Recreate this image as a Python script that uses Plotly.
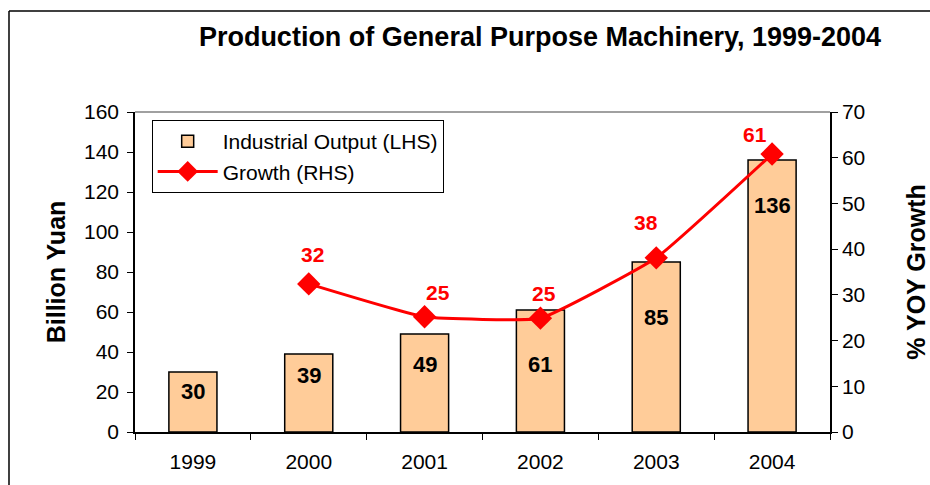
import plotly.graph_objects as go

years = ["1999", "2000", "2001", "2002", "2003", "2004"]
output = [30, 39, 49, 61, 85, 136]
growth_years = ["2000", "2001", "2002", "2003", "2004"]
growth = [32.4, 25.2, 24.9, 38.1, 60.8]

# label placement (left-axis units for bar labels, pixel shifts for growth labels)
bar_label_y = [20.5, 28.5, 34, 34, 57.5, 113.5]
growth_label_dx = [4, 13, 4, -10, -17]
growth_label_dy = [29, 24, 25, 35, 20]

FONT = "Liberation Sans, Arial, sans-serif"

fig = go.Figure()
fig.add_trace(go.Bar(
    x=years, y=output, name="Industrial Output (LHS)",
    marker=dict(color="#FFCC99", line=dict(color="black", width=1.5)),
    yaxis="y",
))
fig.add_trace(go.Scatter(
    x=growth_years, y=growth, name="Growth (RHS)",
    mode="lines+markers", line=dict(color="#FF0000", width=3, shape="spline", smoothing=0.35),
    marker=dict(symbol="diamond", size=18, color="#FF0000"),
    yaxis="y2",
))

annotations = []
for x, v, ly in zip(years, output, bar_label_y):
    annotations.append(dict(x=years.index(x), y=ly, xref="x", yref="y", text=f"<b>{v}</b>",
                            showarrow=False, font=dict(family=FONT, size=22, color="black")))
for x, v, dx, dy in zip(growth_years, growth, growth_label_dx, growth_label_dy):
    annotations.append(dict(x=years.index(x), y=v, xref="x", yref="y2", text=f"<b>{round(v)}</b>",
                            showarrow=False, xshift=dx, yshift=dy,
                            font=dict(family=FONT, size=21, color="#FF0000")))

fig.update_layout(
    width=930, height=485,
    margin=dict(l=135, r=100, t=112, b=53),
    paper_bgcolor="white", plot_bgcolor="white",
    font=dict(family=FONT, size=21, color="black"),
    title=dict(text="<b>Production of General Purpose Machinery, 1999-2004</b>",
               x=540/930, xanchor="center", y=1-37/485, yanchor="middle",
               font=dict(family=FONT, size=27, color="black")),
    bargap=0.585,
    showlegend=True,
    legend=dict(x=0.024, y=0.975, xanchor="left", yanchor="top",
                bordercolor="black", borderwidth=1, bgcolor="white",
                font=dict(family=FONT, size=21), itemwidth=60, tracegroupgap=6),
    xaxis=dict(type="category", range=[-0.5, 5.5], showline=True, linecolor="black", linewidth=1.5,
               ticks="outside", ticklen=6, tickcolor="black", tickson="boundaries",
               showgrid=False, tickfont=dict(size=21), tickangle=0, ticklabelstandoff=10,
               automargin=False),
    yaxis=dict(range=[0, 160], dtick=20, showline=True, linecolor="black", linewidth=1.5,
               ticks="outside", ticklen=6, tickcolor="black", showgrid=False, zeroline=False,
               ticklabelstandoff=4, automargin=False,
               title=dict(text="<b>Billion Yuan</b>", font=dict(size=25), standoff=11),
               tickfont=dict(size=21)),
    yaxis2=dict(range=[0, 70], dtick=10, overlaying="y", side="right", showline=True,
                linecolor="black", linewidth=1.5, ticks="outside", ticklen=6, tickcolor="black",
                showgrid=False, zeroline=False, automargin=False,
                title=dict(text="<b>% YOY Growth</b>", font=dict(size=25), standoff=48),
                tickfont=dict(size=21)),
    annotations=annotations,
    shapes=[
        dict(type="line", xref="paper", yref="paper", x0=0, x1=1, y0=1, y1=1,
             line=dict(color="#808080", width=1.5)),
        dict(type="line", xref="paper", yref="paper", x0=-0.1813, x1=2, y0=1.3156, y1=1.3156,
             line=dict(color="black", width=1.5), layer="below"),
        dict(type="line", xref="paper", yref="paper", x0=-0.1813, x1=-0.1813, y0=-1, y1=1.3156,
             line=dict(color="black", width=1.5), layer="below"),
    ],
)

fig.write_html("out.html", config={"displayModeBar": False},
               post_script="document.body.style.margin='0';document.body.style.overflow='hidden';")
